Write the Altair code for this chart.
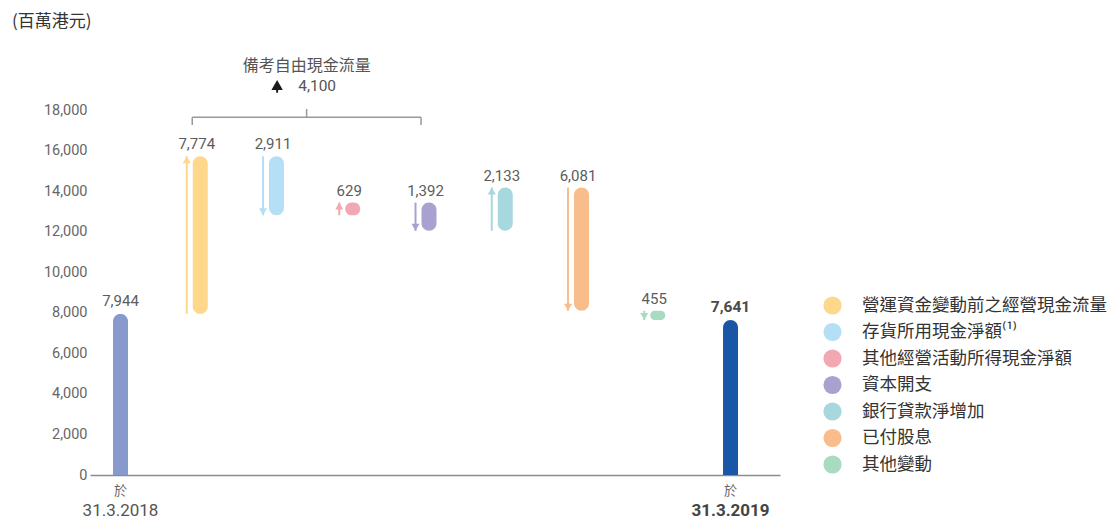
import altair as alt
import pandas as pd

# ---------------- data ----------------
unit_title = "(百萬港元)"
start_value = 7944
end_value = 7641
start_text = "7,944"
end_text = "7,641"
date_prefix = "於"
date_labels = ["31.3.2018", "31.3.2019"]
step_names = [
    "營運資金變動前之經營現金流量",
    "存貨所用現金淨額⁽¹⁾",
    "其他經營活動所得現金淨額",
    "資本開支",
    "銀行貸款淨增加",
    "已付股息",
    "其他變動",
]
step_changes = [7774, -2911, 629, -1392, 2133, -6081, -455]
step_texts = ["7,774", "2,911", "629", "1,392", "2,133", "6,081", "455"]
step_colors = ["#FDD88B", "#B4DFF5", "#F1A8B2", "#A9A2D1", "#A6D8DD", "#F9BD8C", "#A8DBC2"]
start_color = "#8899CE"
end_color = "#1A56A6"
y_ticks = [0, 2000, 4000, 6000, 8000, 10000, 12000, 14000, 16000, 18000]
fcf_title = "備考自由現金流量"
fcf_value = "4,100"

CJK = "Noto Sans CJK TC"
NUM = "Roboto, 'Noto Sans CJK TC'"

# ---------------- tables ----------------
rows = []
level = start_value
for i, (n, c, t, col) in enumerate(zip(step_names, step_changes, step_texts, step_colors)):
    new = level + c
    rows.append(dict(idx=i + 1, name=n, start=level, end=new, lo=min(level, new),
                     hi=max(level, new), text=t, col=col, dir="up" if c > 0 else "down"))
    level = new
steps = pd.DataFrame(rows)

ends = pd.DataFrame(dict(idx=[0, len(step_names) + 1], value=[start_value, end_value],
                         text=[start_text, end_text], col=[start_color, end_color],
                         date=date_labels, prefix=[date_prefix, date_prefix],
                         zero=[0, 0]))

# bracket annotation (data units)
br_lo, br_y, br_top = 17260, 17640, 18050
bracket_h = pd.DataFrame(dict(x=[1], x2=[4], y=[br_y]))
bracket_v = pd.DataFrame(dict(x=[1, 4, 2.5], y=[br_lo, br_lo, br_y], y2=[br_y, br_y, br_top]))
annot = pd.DataFrame(dict(x=[2.5], y=[20170], y2=[19184], y3=[18854],
                          t=[fcf_title], v=[fcf_value]))

# ---------------- encodings ----------------
xscale = alt.Scale(domain=[-0.4, 8.649], nice=False, zero=False, padding=0)
xaxis = alt.Axis(labels=False, ticks=False, grid=False, title=None,
                 domainColor="#8c8c8c", domainWidth=1.5)
yscale = alt.Scale(domain=[0, 18000], nice=False, padding=0)
yaxis = alt.Axis(values=y_ticks, labelExpr="format(datum.value, ',')", ticks=False,
                 domain=False, grid=False, title=None, labelFontSize=14.5,
                 labelColor="#666666", labelFont=NUM, labelPadding=3)


def X(f="idx"):
    return alt.X(f"{f}:Q", scale=xscale, axis=xaxis)


def Y(f):
    return alt.Y(f"{f}:Q", scale=yscale, axis=yaxis)


color = alt.Color(
    "name:N",
    scale=alt.Scale(domain=step_names, range=step_colors),
    legend=alt.Legend(title=None, orient="none", legendX=733, legendY=186,
                      symbolType="circle", symbolSize=330, symbolStrokeWidth=0,
                      labelFontSize=17.5, labelColor="#333333", labelFont=CJK,
                      labelOffset=20, rowPadding=7.5, labelLimit=400, padding=0),
)

base_steps = alt.Chart(steps)
base_ends = alt.Chart(ends)

end_bars = base_ends.mark_bar(width=15, cornerRadiusTopLeft=7.5, cornerRadiusTopRight=7.5,
                              orient="vertical").encode(
    x=X(), y=Y("value"), fill=alt.Fill("col:N", scale=None))

step_bars = base_steps.mark_bar(width=15, cornerRadius=7.5, xOffset=3.5,
                                orient="vertical").encode(
    x=X(), y=Y("lo"), y2="hi:Q", color=color)

arrows = base_steps.mark_rule(strokeWidth=2, xOffset=-10).encode(
    x=X(), y=Y("start"), y2="end:Q", stroke=alt.Stroke("col:N", scale=None))

heads_up = base_steps.transform_filter(alt.datum.dir == "up").mark_point(
    shape="triangle-up", filled=True, size=64, opacity=1, xOffset=-10, yOffset=3.5).encode(
    x=X(), y=Y("end"), fill=alt.Fill("col:N", scale=None))

heads_down = base_steps.transform_filter(alt.datum.dir == "down").mark_point(
    shape="triangle-down", filled=True, size=64, opacity=1, xOffset=-10, yOffset=-3.5).encode(
    x=X(), y=Y("end"), fill=alt.Fill("col:N", scale=None))

step_labels = base_steps.mark_text(baseline="alphabetic", dy=-7, fontSize=15, font=NUM,
                                   color="#5c5c5c").encode(x=X(), y=Y("hi"), text="text:N")

start_label = base_ends.transform_filter(alt.datum.idx == 0).mark_text(
    baseline="alphabetic", dy=-8, fontSize=15, font=NUM, color="#5c5c5c").encode(
    x=X(), y=Y("value"), text="text:N")

end_label = base_ends.transform_filter(alt.datum.idx > 0).mark_text(
    baseline="alphabetic", dy=-8, fontSize=15.5, font=NUM, fontWeight="bold",
    color="#4a4a4a").encode(x=X(), y=Y("value"), text="text:N")

prefix_txt = base_ends.mark_text(baseline="middle", dy=16, fontSize=13, font=CJK,
                                 color="#666666").encode(
    x=X(), y=Y("zero"), text="prefix:N")

date_start = base_ends.transform_filter(alt.datum.idx == 0).mark_text(
    baseline="middle", dy=36, fontSize=17, font=NUM, color="#555555").encode(
    x=X(), y=Y("zero"), text="date:N")

date_end = base_ends.transform_filter(alt.datum.idx > 0).mark_text(
    baseline="middle", dy=36, fontSize=17, font=NUM, fontWeight="bold",
    color="#444444").encode(
    x=X(), y=Y("zero"), text="date:N")

br_h = alt.Chart(bracket_h).mark_rule(color="#999999", strokeWidth=1.5, xOffset=-4.5,
                                      x2Offset=-4.5).encode(x=X("x"), x2="x2:Q", y=Y("y"))
br_v = alt.Chart(bracket_v).mark_rule(color="#999999", strokeWidth=1.5, xOffset=-4.5).encode(
    x=X("x"), y=Y("y"), y2="y2:Q")

annot_title = alt.Chart(annot).mark_text(baseline="middle", fontSize=16, font=CJK,
                                         color="#555555", xOffset=-4.5).encode(
    x=X("x"), y=Y("y"), text="t:N")
annot_value = alt.Chart(annot).mark_text(baseline="middle", fontSize=15.5, font=NUM,
                                         color="#555555", xOffset=6).encode(
    x=X("x"), y=Y("y2"), text="v:N")
annot_arrow = alt.Chart(annot).mark_point(shape="triangle-up", filled=True, size=130,
                                          opacity=1, color="#1a1a1a", xOffset=-34,
                                          yOffset=-1).encode(x=X("x"), y=Y("y2"))
annot_stem = alt.Chart(annot).mark_rule(color="#1a1a1a", strokeWidth=2, xOffset=-34).encode(
    x=X("x"), y=Y("y2"), y2="y3:Q")

unit_txt = alt.Chart(annot).mark_text(align="left", baseline="middle", fontSize=17, font=CJK,
                                      color="#333333").encode(
    x=alt.value(-78), y=alt.value(-88), text=alt.value(unit_title))

chart = alt.layer(
    end_bars, step_bars, arrows, heads_up, heads_down, step_labels, start_label, end_label,
    prefix_txt, date_start, date_end, br_h, br_v, annot_title, annot_value, annot_stem,
    annot_arrow, unit_txt,
).properties(
    width=690, height=365,
    padding={"left": 90, "top": 110, "right": 331, "bottom": 46},
    autosize=alt.AutoSizeParams(type="none"),
    background="white",
).configure_view(stroke=None)

chart.save("out.html", embed_options={"renderer": "svg", "actions": False})
